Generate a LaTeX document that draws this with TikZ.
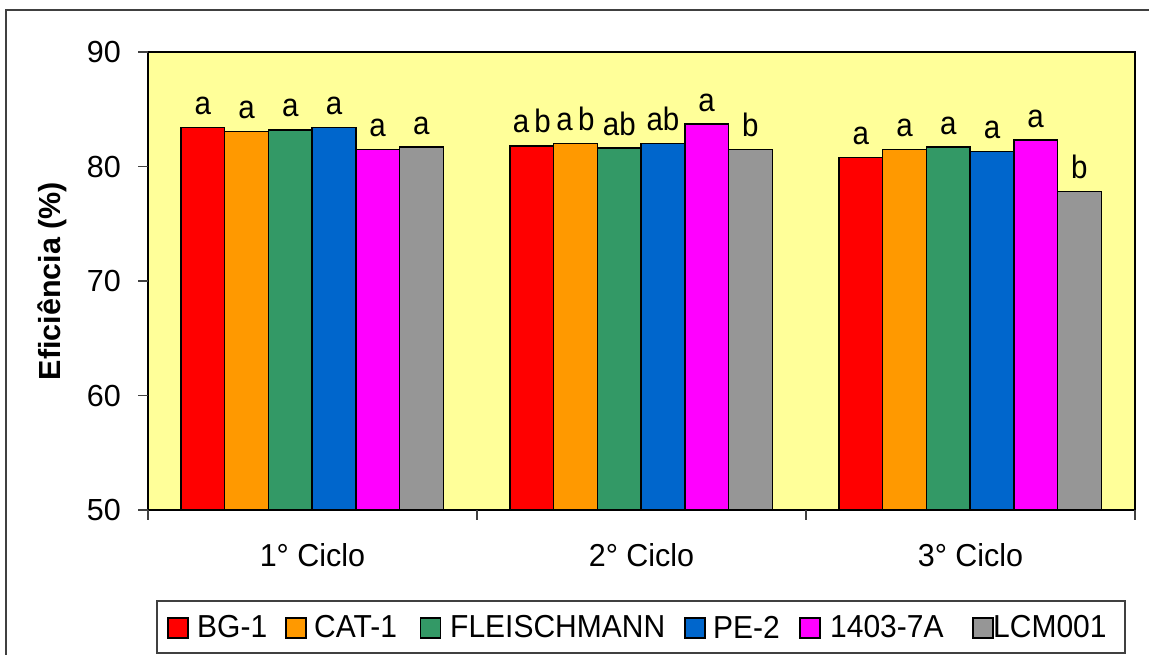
\documentclass[tikz,border=0pt]{standalone}
\usepackage{fontspec}
\setmainfont{Liberation Sans}
\definecolor{cred}{HTML}{FF0000}
\definecolor{corange}{HTML}{FF9900}
\definecolor{cgreen}{HTML}{339966}
\definecolor{cblue}{HTML}{0066CC}
\definecolor{cmag}{HTML}{FF00FF}
\definecolor{cgray}{HTML}{969696}
\definecolor{cbg}{HTML}{FFFF99}
\definecolor{cframe}{HTML}{404040}
\begin{document}
\begin{tikzpicture}[x=1pt,y=-1pt,
  barbox/.style={draw=black,line width=1.4pt},
  lbl/.style={font=\fontsize{29.5}{32}\selectfont,anchor=base,inner sep=0pt,yscale=1.1},
  ticklbl/.style={font=\fontsize{30.5}{32}\selectfont,anchor=east,inner sep=0pt},
  catlbl/.style={font=\fontsize{30.5}{32}\selectfont,anchor=center,inner sep=0pt,yscale=1.04},
  leglbl/.style={font=\fontsize{30}{32}\selectfont,anchor=west,inner sep=0pt,yscale=1.06},
  legmark/.style={draw=black,line width=1.2pt},
  tickline/.style={draw=cframe,line width=1.2pt}]
\useasboundingbox (0,0) rectangle (1149,654);
% outer chart frame
\draw[cframe,line width=1.6pt] (6,670) -- (6,10) -- (1165,10);
% plot area
\fill[cbg] (148,52) rectangle (1135,510);
% bars and labels
\foreach \g/\i/\v/\l/\c in {
  0/0/83.4/a/cred, 0/1/83.05/a/corange, 0/2/83.2/a/cgreen, 0/3/83.4/a/cblue, 0/4/81.5/a/cmag, 0/5/81.7/a/cgray,
  1/0/81.8/{a\hspace{0.18em}b}/cred, 1/1/82.0/{a\hspace{0.18em}b}/corange, 1/2/81.6/ab/cgreen, 1/3/82.0/ab/cblue, 1/4/83.7/a/cmag, 1/5/81.5/b/cgray,
  2/0/80.8/a/cred, 2/1/81.5/a/corange, 2/2/81.7/a/cgreen, 2/3/81.3/a/cblue, 2/4/82.3/a/cmag, 2/5/77.8/b/cgray}{
  \pgfmathsetmacro{\xl}{181+329*\g+43.7*\i}
  \pgfmathsetmacro{\xr}{\xl+43.7}
  \pgfmathsetmacro{\xc}{\xl+21.85}
  \pgfmathsetmacro{\yt}{510-(\v-50)*11.45}
  \draw[barbox,fill=\c] (\xl,510) rectangle (\xr,\yt);
  \node[lbl] (lab\g\i) at (\xc,\yt-13) {\l};
}
% plot border
\draw[black,line width=1.6pt] (148,52) rectangle (1135,510);
% y ticks
\foreach \v/\n in {90/t90,80/t80,70/t70,60/t60,50/t50}{
  \pgfmathsetmacro{\yy}{510-(\v-50)*11.45}
  \draw[tickline] (138,\yy) -- (148,\yy);
  \node[ticklbl] (\n) at (121,\yy) {\v};
}
% x ticks
\foreach \k in {0,1,2,3}{
  \pgfmathsetmacro{\xx}{148+329*\k}
  \draw[tickline] (\xx,510) -- (\xx,520);
}
\node[catlbl] (c1) at (312.5,555) {1° Ciclo};
\node[catlbl] (c2) at (641.5,555) {2° Ciclo};
\node[catlbl] (c3) at (970.5,555) {3° Ciclo};
% y title
\node[font=\bfseries\fontsize{30.5}{32}\selectfont,rotate=90,inner sep=0pt] (ytitle) at (52,281) {Eficiência (\%)};
% legend
\draw[draw=cframe,line width=1.2pt,fill=white] (157,601) rectangle (1125,653);
\foreach \mx/\tx/\c/\t/\n in {168/197/cred/BG-1/lg1, 286/314/corange/CAT-1/lg2, 420.7/450/cgreen/FLEISCHMANN/lg3,
  685/713/cblue/PE-2/lg4, 800/830/cmag/1403-7A/lg5, 973/993/cgray/LCM001/lg6}{
  \draw[legmark,fill=\c] (\mx,618) rectangle ++(20,20);
  \node[leglbl] (\n) at (\tx,627) {\t};
}
\end{tikzpicture}
\end{document}
